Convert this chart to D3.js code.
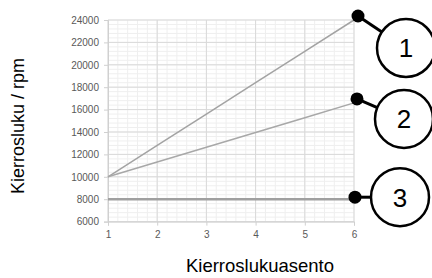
<!DOCTYPE html>
<html><head><meta charset="utf-8">
<script src="https://cdn.jsdelivr.net/npm/d3@7"></script>
<style>body{margin:0;background:#fff}svg{display:block}</style>
</head><body>
<svg id="c" width="432" height="278"></svg>
<script>
const gears = [1, 2, 3, 4, 5, 6];
const series1 = [10000, 12800, 15600, 18400, 21200, 24000];
const series2 = [10000, 11320, 12640, 13960, 15280, 16600];
const series3 = [8000, 8000, 8000, 8000, 8000, 8000];
const yTicks = [6000, 8000, 10000, 12000, 14000, 16000, 18000, 20000, 22000, 24000];
const xTicks = [1, 2, 3, 4, 5, 6];
const calloutLabels = ["1", "2", "3"];

const FONT = "'Liberation Sans', Arial, sans-serif";
const svg = d3.select("#c");
const x = d3.scaleLinear().domain([1, 6]).range([108, 354]);
const y = d3.scaleLinear().domain([6000, 24000]).range([221.6, 20]);

// minor grid
const minorX = d3.range(1, 6.0001, 0.2);
const minorY = d3.range(6000, 24001, 400);
const g = svg.append("g");
g.selectAll(".mx").data(minorX).join("line")
  .attr("x1", d => x(d)).attr("x2", d => x(d)).attr("y1", y(6000)).attr("y2", y(24000))
  .attr("stroke", "#efefef").attr("stroke-width", 1);
g.selectAll(".my").data(minorY).join("line")
  .attr("y1", d => y(d)).attr("y2", d => y(d)).attr("x1", x(1)).attr("x2", x(6))
  .attr("stroke", "#efefef").attr("stroke-width", 1);
// major grid
g.selectAll(".Mx").data(xTicks).join("line")
  .attr("x1", d => x(d)).attr("x2", d => x(d)).attr("y1", y(6000)).attr("y2", y(24000))
  .attr("stroke", "#d9d9d9").attr("stroke-width", 1);
g.selectAll(".My").data(yTicks).join("line")
  .attr("y1", d => y(d)).attr("y2", d => y(d)).attr("x1", x(1)).attr("x2", x(6))
  .attr("stroke", "#d9d9d9").attr("stroke-width", 1);

// axes
const yAxis = d3.axisLeft(y).tickValues(yTicks).tickFormat(d3.format("d")).tickSize(4).tickPadding(5);
const xAxis = d3.axisBottom(x).tickValues(xTicks).tickFormat(d3.format("d")).tickSize(4).tickPadding(5);
const ya = svg.append("g").attr("transform", `translate(${x(1)},0)`).call(yAxis);
const xa = svg.append("g").attr("transform", `translate(0,${y(6000)})`).call(xAxis);
[ya, xa].forEach(a => {
  a.select(".domain").attr("stroke", "#d0d0d0");
  a.selectAll(".tick line").attr("stroke", "#d0d0d0");
  a.selectAll("text").attr("fill", "#595959").style("font-family", FONT).style("font-size", "10px");
});

// lines
const line = d3.line().x((d, i) => x(gears[i])).y(d => y(d));
svg.append("path").datum(series1).attr("d", line).attr("fill", "none").attr("stroke", "#a3a3a3").attr("stroke-width", 1.5);
svg.append("path").datum(series2).attr("d", line).attr("fill", "none").attr("stroke", "#a8a8a8").attr("stroke-width", 1.5);
svg.append("path").datum(series3).attr("d", line).attr("fill", "none").attr("stroke", "#a0a0a0").attr("stroke-width", 2.5);

// callouts
const ends = [
  {v: series1[5], dx: 4, dy: -4, cx: 48, cy: 32},
  {v: series2[5], dx: 3, dy: -4, cx: 47, cy: 20},
  {v: series3[5], dx: 1, dy: -2, cx: 45, cy: 0}
];
ends.forEach((e, i) => {
  const px = x(6) + e.dx, py = y(e.v) + e.dy;
  const ccx = px + e.cx, ccy = py + e.cy, r = 29;
  const ang = Math.atan2(ccy - py, ccx - px);
  svg.append("line").attr("x1", px).attr("y1", py)
    .attr("x2", ccx - r * Math.cos(ang)).attr("y2", ccy - r * Math.sin(ang))
    .attr("stroke", "#000").attr("stroke-width", 3);
  svg.append("circle").attr("cx", ccx).attr("cy", ccy).attr("r", r)
    .attr("fill", "#fff").attr("stroke", "#000").attr("stroke-width", 2.5);
  svg.append("circle").attr("cx", px).attr("cy", py).attr("r", 6.5).attr("fill", "#000");
  svg.append("text").attr("x", ccx).attr("y", ccy).attr("dy", "0.36em").attr("text-anchor", "middle")
    .style("font-family", FONT).style("font-size", "26px").attr("fill", "#000")
    .text(calloutLabels[i]);
});

// axis titles
svg.append("text").attr("transform", "translate(24,126) rotate(-90)").attr("text-anchor", "middle")
  .style("font-family", FONT).style("font-size", "18px").attr("fill", "#000")
  .text("Kierrosluku / rpm");
svg.append("text").attr("x", 260).attr("y", 272).attr("text-anchor", "middle")
  .style("font-family", FONT).style("font-size", "18.5px").attr("fill", "#000")
  .text("Kierroslukuasento");
</script>
</body></html>
